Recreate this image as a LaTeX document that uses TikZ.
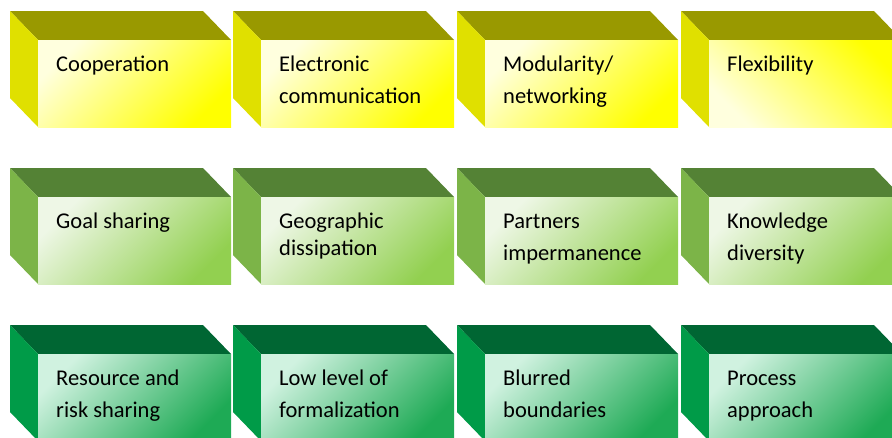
\documentclass[tikz,border=0pt]{standalone}
\usepackage{fontspec}
\setmainfont{Carlito}
\usepackage{tikz}
\usetikzlibrary{calc}

\definecolor{yelTop}{RGB}{153,153,0}
\definecolor{yelSide}{RGB}{224,224,0}
\definecolor{yelLight}{RGB}{255,255,222}
\definecolor{yelMid}{RGB}{255,255,198}
\definecolor{yelDark}{RGB}{255,255,0}
\definecolor{lgrTop}{RGB}{84,130,53}
\definecolor{lgrSide}{RGB}{124,180,72}
\definecolor{lgrLight}{RGB}{238,247,230}
\definecolor{lgrMid}{RGB}{205,232,172}
\definecolor{lgrDark}{RGB}{146,208,80}
\definecolor{dgrTop}{RGB}{0,102,51}
\definecolor{dgrSide}{RGB}{0,155,72}
\definecolor{dgrLight}{RGB}{208,242,224}
\definecolor{dgrMid}{RGB}{150,212,175}
\definecolor{dgrDark}{RGB}{30,170,85}

% #1 x, #2 y (top left corner), #3 colour set, #4 front style, #5 name, #6 text
\newcommand{\cuboid}[6]{%
  \fill[#3 top] (#1,#2) -- ++(193,0) -- ++(28,29) -- ++(-193,0) -- cycle;
  \fill[#3 side] (#1,#2) -- ++(28,29) -- ++(0,87) -- ++(-28,-29) -- cycle;
  \shade[#4] (#1+28,#2+29) rectangle ++(193,87);
  \node[label text] (#5) at (#1+46,#2+60)
    {\begin{tabular}[t]{@{}l@{}}#6\end{tabular}};
}

\begin{document}
\begin{tikzpicture}[x=1pt, y=-1pt, font=\fontsize{22.5}{32}\selectfont,
  label text/.style={anchor=base west, inner sep=0pt, text=black},
  yel top/.style={fill=yelTop}, yel side/.style={fill=yelSide},
  yel front/.style={top color=yelLight, middle color=yelMid, bottom color=yelDark, shading angle=45},
  yel flip/.style={top color=yelDark, middle color=yelMid, bottom color=yelLight, shading angle=-45},
  lgr top/.style={fill=lgrTop}, lgr side/.style={fill=lgrSide},
  lgr front/.style={top color=lgrLight, middle color=lgrMid, bottom color=lgrDark, shading angle=45},
  dgr top/.style={fill=dgrTop}, dgr side/.style={fill=dgrSide},
  dgr front/.style={top color=dgrLight, middle color=dgrMid, bottom color=dgrDark, shading angle=45}]
\useasboundingbox (0,0) rectangle (892,437);
\clip (0,0) rectangle (892,437);

% first row
\cuboid{10}{11}{yel}{yel front}{coop}{Cooperation}
\cuboid{233}{11}{yel}{yel front}{elec}{Electronic\\communication}
\cuboid{457}{11}{yel}{yel front}{modul}{Modularity/\\networking}
\cuboid{681}{11}{yel}{yel flip}{flex}{Flexibility}

% second row
\cuboid{10}{168}{lgr}{lgr front}{goal}{Goal sharing}
\cuboid{233}{168}{lgr}{lgr front}{geo}{Geographic\\[-5pt]dissipation}
\cuboid{457}{168}{lgr}{lgr front}{partn}{Partners\\impermanence}
\cuboid{681}{168}{lgr}{lgr front}{know}{Knowledge\\diversity}

% third row
\cuboid{10}{325}{dgr}{dgr front}{risk}{Resource and\\risk sharing}
\cuboid{233}{325}{dgr}{dgr front}{formal}{Low level of\\formalization}
\cuboid{457}{325}{dgr}{dgr front}{blur}{Blurred\\boundaries}
\cuboid{681}{325}{dgr}{dgr front}{proc}{Process\\approach}
\end{tikzpicture}
\end{document}
